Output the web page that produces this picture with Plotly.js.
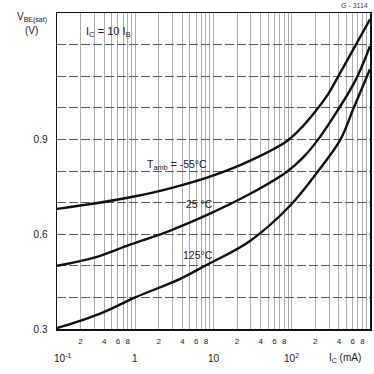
<!DOCTYPE html>
<html>
<head>
<meta charset="utf-8">
<script src="https://cdn.plot.ly/plotly-3.0.1.min.js"></script>
<style>html,body{margin:0;padding:0;background:#fff;}#chart{width:374px;height:374px;}</style>
</head>
<body>
<div id="chart"></div>
<script>
// Collector current I_C (mA) and V_BE(sat) (V)
const icM55 = [0.1, 0.3, 1, 2.78, 9, 29, 87, 140, 218, 293, 394, 661, 1000];
const vM55  = [0.68, 0.697, 0.72, 0.745, 0.782, 0.832, 0.895, 0.943, 1.0, 1.044, 1.1, 1.2, 1.28];

const ic25 = [0.1, 0.3, 0.857, 2.7, 9, 29, 86, 140, 218, 382, 662, 1000];
const v25  = [0.5, 0.526, 0.567, 0.61, 0.665, 0.727, 0.797, 0.843, 0.9, 0.99, 1.09, 1.195];

const ic125 = [0.1, 0.35, 1, 3.7, 7.8, 29, 95, 218, 420, 620, 1000];
const v125  = [0.303, 0.348, 0.4, 0.458, 0.5, 0.578, 0.69, 0.8, 0.9, 1.0, 1.122];

const seriesNames = ['T_amb = -55°C', '25 °C', '125°C'];

// Axis ticks
const xGridVals = [];
const xGridText = [];
const digitLabels = {2: '2', 4: '4', 6: '6', 8: '8'};
[0.1, 1, 10, 100].forEach(d => {
  for (let k = 1; k <= 9; k++) {
    xGridVals.push(d * k);
    xGridText.push(digitLabels[k] || ' ');
  }
});
xGridVals.push(1000); xGridText.push(' ');

const decadeVals = [0.1, 1, 10, 100];
const decadeText = ['10<sup>-1</sup>', '1', '10', '10<sup>2</sup>'];

const yTickVals = [0.3, 0.4, 0.5, 0.6, 0.7, 0.8, 0.9, 1.0, 1.1, 1.2];
const yTickText = ['0.3', ' ', ' ', '0.6', ' ', ' ', '0.9', ' ', ' ', ' '];

const FONT = 'Liberation Sans, Arial, sans-serif';
const INK = '#1a1a1a';

function curve(x, y, name) {
  return {x: x, y: y, name: name, type: 'scatter', mode: 'lines',
    line: {color: '#111', width: 2.4, shape: 'spline', smoothing: 1.0},
    hoverinfo: 'skip', showlegend: false};
}

const data = [
  curve(icM55, vM55, seriesNames[0]),
  curve(ic25, v25, seriesNames[1]),
  curve(ic125, v125, seriesNames[2])
];

const annotations = [];
decadeVals.forEach((v, i) => {
  annotations.push({x: Math.log10(v), xref: 'x', y: -0.092, yref: 'paper',
    text: decadeText[i], showarrow: false, xanchor: 'center', yanchor: 'middle',
    xshift: i === 0 ? 5 : 0,
    font: {family: FONT, size: 10, color: INK}});
});
annotations.push(
  {x: 0.92, xref: 'paper', y: -0.092, yref: 'paper', text: 'I<sub>C</sub> (mA)',
   showarrow: false, xanchor: 'center', yanchor: 'middle', font: {family: FONT, size: 10, color: INK}},
  {x: -0.08, xref: 'paper', y: 0.985, yref: 'paper', text: 'V<sub>BE(sat)</sub>',
   showarrow: false, xanchor: 'center', yanchor: 'middle', font: {family: FONT, size: 10, color: INK}},
  {x: -0.08, xref: 'paper', y: 0.945, yref: 'paper', text: '(V)',
   showarrow: false, xanchor: 'center', yanchor: 'middle', font: {family: FONT, size: 10, color: INK}},
  {x: 0.163, xref: 'paper', y: 0.94, yref: 'paper', text: 'I<sub>C</sub> = 10 I<sub>B</sub>',
   showarrow: false, xanchor: 'center', yanchor: 'middle', font: {family: FONT, size: 11, color: INK}},
  {x: 1.0, xref: 'paper', y: 1.0, yref: 'paper', yshift: 2, text: 'G - 3114',
   showarrow: false, xanchor: 'right', yanchor: 'bottom', font: {family: FONT, size: 7, color: '#444'}},
  {x: 0.534, xref: 'x', y: 0.82, yref: 'y', text: 'T<sub>amb</sub> = -55°C',
   showarrow: false, xanchor: 'center', yanchor: 'middle',
   font: {family: FONT, size: 10.5, color: INK}},
  {x: 0.815, xref: 'x', y: 0.695, yref: 'y', text: '25 °C',
   showarrow: false, xanchor: 'center', yanchor: 'middle', font: {family: FONT, size: 10.5, color: INK}},
  {x: 0.802, xref: 'x', y: 0.534, yref: 'y', text: '125°C',
   showarrow: false, xanchor: 'center', yanchor: 'middle', font: {family: FONT, size: 10.5, color: INK}}
);

const layout = {
  width: 374, height: 374,
  margin: {l: 57, r: 4, t: 13, b: 45},
  paper_bgcolor: '#fff', plot_bgcolor: '#fff',
  showlegend: false,
  xaxis: {
    type: 'log', range: [-1, 3],
    tickmode: 'array', tickvals: xGridVals, ticktext: xGridText,
    tickangle: 0,
    ticks: 'outside', ticklen: 4, tickcolor: 'rgba(0,0,0,0)',
    showgrid: true, gridcolor: '#ababab', gridwidth: 1,
    showline: true, linecolor: '#111', linewidth: 1.5, mirror: true,
    zeroline: false,
    tickfont: {family: FONT, size: 8, color: INK}
  },
  yaxis: {
    range: [0.3, 1.3],
    tickmode: 'array', tickvals: yTickVals, ticktext: yTickText,
    ticks: 'outside', ticklen: 6, tickcolor: 'rgba(0,0,0,0)',
    showgrid: true, gridcolor: '#5a5a5a', gridwidth: 1, griddash: '9px,3px',
    showline: true, linecolor: '#111', linewidth: 1.5, mirror: true,
    zeroline: false,
    tickfont: {family: FONT, size: 10, color: INK}
  },
  annotations: annotations
};

Plotly.newPlot('chart', data, layout, {staticPlot: true, displayModeBar: false});
</script>
</body>
</html>
